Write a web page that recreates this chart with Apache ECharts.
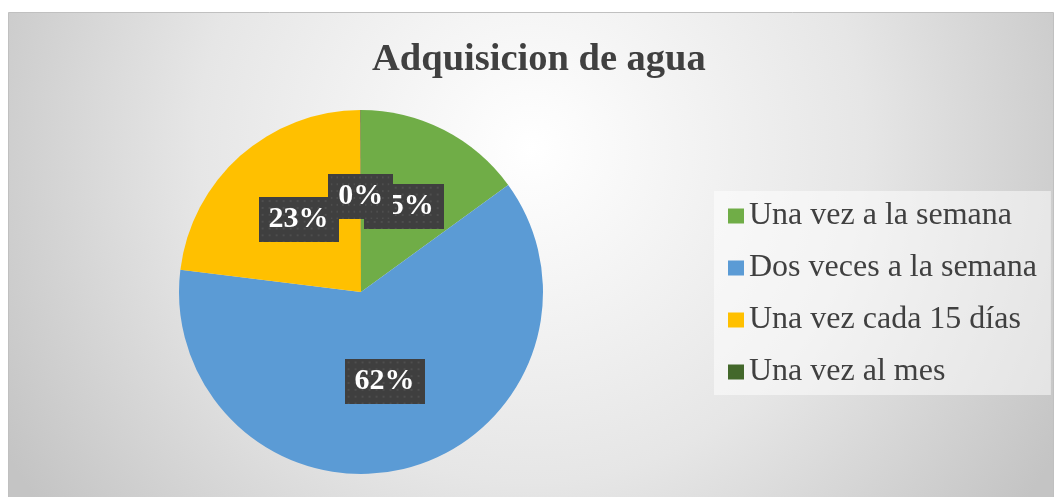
<!DOCTYPE html>
<html>
<head>
<meta charset="utf-8">
<script src="https://cdn.jsdelivr.net/npm/echarts@6/dist/echarts.min.js"></script>
<style>
	html,body{margin:0;padding:0;background:#fff;}
	#main{width:1055px;height:497px;}
</style>
</head>
<body>
<div id="main"></div>
<script type="text/javascript">
	var categories = ['Una vez a la semana', 'Dos veces a la semana', 'Una vez cada 15 días', 'Una vez al mes'];
	var percents = [15, 62, 23, 0];
	var colors = ['#70ad47', '#5b9bd5', '#ffc000', '#43682b'];

	// dark label box with the little dot texture
	function dotBox(w, h){
		var c = document.createElement('canvas');
		c.width = w; c.height = h;
		var ctx = c.getContext('2d');
		ctx.fillStyle = '#3f3f3f';
		ctx.fillRect(0, 0, w, h);
		ctx.fillStyle = '#4e4e4e';
		for (var y = 3; y < h; y += 7) {
			for (var x = 3; x < w; x += 7) {
				ctx.fillRect(x, y, 2, 2);
			}
		}
		return c;
	}
	var boxImg = dotBox(80, 46);

	var pieData = [];
	for (var i = 0; i < categories.length; i++) {
		pieData.push({name: categories[i], value: percents[i], itemStyle: {color: colors[i]}});
	}

	var myChart = echarts.init(document.getElementById('main'));
	var option = {
		backgroundColor: '#ffffff',
		animation: false,
		graphic: [{
			type: 'rect',
			left: 8, top: 12,
			z: -10,
			shape: {width: 1045, height: 485},
			style: {
				fill: new echarts.graphic.RadialGradient(0.5, 0.28, 1.25, [
					{offset: 0, color: '#ffffff'},
					{offset: 0.55, color: '#e6e6e6'},
					{offset: 1, color: '#c4c4c4'}
				]),
				stroke: '#c0c0c0',
				lineWidth: 1
			}
		}],
		title: {
			text: 'Adquisicion de agua',
			left: 367,
			top: 36,
			textStyle: {
				fontFamily: 'Liberation Serif',
				fontWeight: 'bold',
				fontSize: 38.5,
				color: '#404040'
			}
		},
		legend: {
			orient: 'vertical',
			left: 714,
			top: 191,
			padding: [9, 14, 7, 14],
			backgroundColor: 'rgba(255,255,255,0.5)',
			itemWidth: 16,
			itemHeight: 15,
			itemGap: 20,
			icon: 'rect',
			selectedMode: false,
			textStyle: {
				fontFamily: 'Liberation Serif',
				fontSize: 32,
				lineHeight: 32,
				color: '#404040'
			},
			data: categories
		},
		series: [{
			type: 'pie',
			center: [361, 292],
			radius: 182,
			startAngle: 90,
			minAngle: 0.2,
			minShowLabelAngle: -1,
			avoidLabelOverlap: false,
			labelLayout: {hideOverlap: false},
			label: {
				show: true,
				position: 'inside',
				offset: [0, -2],
				formatter: function(p){ return p.value + '%'; },
				fontFamily: 'Liberation Serif',
				fontWeight: 'bold',
				fontSize: 30,
				lineHeight: 33,
				color: '#ffffff',
				backgroundColor: {image: boxImg},
				padding: [4, 10, 8, 10],
				shadowColor: 'rgba(0,0,0,0.55)',
				shadowBlur: 5,
				shadowOffsetX: 3,
				shadowOffsetY: 3
			},
			labelLine: {show: false},
			emphasis: {disabled: true},
			data: pieData
		}]
	};
	myChart.setOption(option);
</script>
</body>
</html>
